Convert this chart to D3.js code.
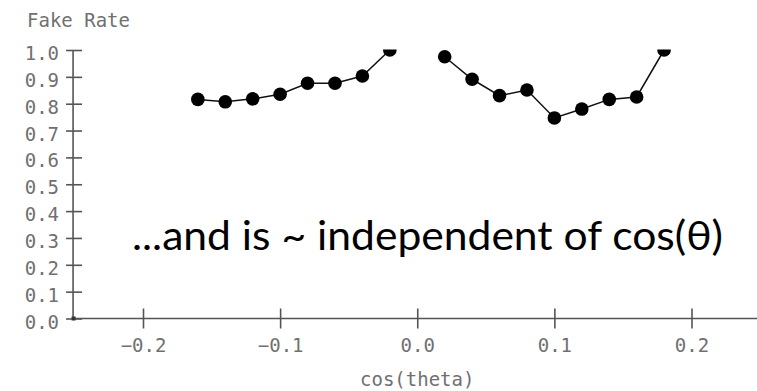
<!DOCTYPE html>
<html>
<head>
<meta charset="utf-8">
<script src="https://cdn.jsdelivr.net/npm/d3@7"></script>
<style>
  html, body { margin: 0; padding: 0; background: #fff; }
  svg { display: block; }
  .axis text { font-family: "DejaVu Sans Mono", monospace; font-size: 19px; fill: #707070; }
  .axis path { display: none; }
  .axis line { stroke: #555; stroke-width: 1.6; }
</style>
</head>
<body>
<div id="chart"></div>
<script>
// fake rate vs cos(theta), two branches (no bin at 0.0)
const cosLeft = [-0.16, -0.14, -0.12, -0.10, -0.08, -0.06, -0.04, -0.02];
const rateLeft = [0.816, 0.807, 0.818, 0.835, 0.876, 0.876, 0.903, 1.0];
const cosRight = [0.02, 0.04, 0.06, 0.08, 0.10, 0.12, 0.14, 0.16, 0.18];
const rateRight = [0.975, 0.891, 0.830, 0.851, 0.747, 0.780, 0.816, 0.825, 1.0];

const xTicks = [-0.2, -0.1, 0.0, 0.1, 0.2];
const yTicks = [0.0, 0.1, 0.2, 0.3, 0.4, 0.5, 0.6, 0.7, 0.8, 0.9, 1.0];

const yTitle = "Fake Rate";
const xTitle = "cos(theta)";
const note = "...and is ~ independent of cos(\u03b8)";

const width = 757, height = 391;

const x = d3.scaleLinear().domain([-0.2, 0.2]).range([143, 691.5]);
const y = d3.scaleLinear().domain([0, 1]).range([318.5, 50]);

const svg = d3.select("#chart").append("svg")
    .attr("width", width)
    .attr("height", height);

svg.append("defs").append("clipPath")
    .attr("id", "plotClip")
  .append("rect")
    .attr("x", x(-0.251))
    .attr("y", y(1.0) - 0.5)
    .attr("width", width)
    .attr("height", y(0) - y(1.0) + 1);

// axes
const yAxis = svg.append("g")
    .attr("class", "axis")
    .attr("transform", `translate(${x(-0.251)},0)`)
    .call(d3.axisLeft(y).tickValues(yTicks).tickFormat(d3.format(".1f")).tickSize(0).tickPadding(14));
yAxis.selectAll(".tick line").attr("x1", -7).attr("x2", 9);
yAxis.selectAll(".tick text").attr("dy", "0.5em");
yAxis.append("line")
    .attr("x1", 0).attr("x2", 0)
    .attr("y1", y(1.0)).attr("y2", y(0));

const xAxis = svg.append("g")
    .attr("class", "axis")
    .attr("transform", `translate(0,${y(0)})`)
    .call(d3.axisBottom(x).tickValues(xTicks).tickFormat(d3.format(".1f")).tickSize(0).tickPadding(18));
xAxis.selectAll(".tick line").attr("y1", -10).attr("y2", 10);
xAxis.selectAll(".tick text").attr("dy", "0.8em");
xAxis.append("line")
    .attr("x1", x(-0.251)).attr("x2", width)
    .attr("y1", 0).attr("y2", 0);

// little square at the origin
svg.append("rect")
    .attr("x", x(-0.251) - 1.5)
    .attr("y", y(0) - 2)
    .attr("width", 4)
    .attr("height", 4)
    .attr("fill", "#333");

svg.append("text")
    .attr("x", 27)
    .attr("y", 26.5)
    .attr("font-family", "DejaVu Sans Mono, monospace")
    .attr("font-size", 19)
    .attr("fill", "#707070")
    .text(yTitle);

svg.append("text")
    .attr("x", x(0))
    .attr("y", 386)
    .attr("text-anchor", "middle")
    .attr("font-family", "DejaVu Sans Mono, monospace")
    .attr("font-size", 19)
    .attr("fill", "#707070")
    .text(xTitle);

// data
const plot = svg.append("g").attr("clip-path", "url(#plotClip)");
const line = d3.line().x(d => x(d[0])).y(d => y(d[1]));

[[cosLeft, rateLeft], [cosRight, rateRight]].forEach(([xs, ys]) => {
    const pts = xs.map((v, i) => [v, ys[i]]);
    plot.append("path")
        .datum(pts)
        .attr("d", line)
        .attr("fill", "none")
        .attr("stroke", "#111")
        .attr("stroke-width", 1.5);
    plot.selectAll(null)
        .data(pts)
        .enter().append("circle")
        .attr("cx", d => x(d[0]))
        .attr("cy", d => y(d[1]))
        .attr("r", 6.8)
        .attr("fill", "#000");
});

// big annotation
svg.append("text")
    .attr("x", 132)
    .attr("y", 250)
    .attr("font-family", "Lato, 'Open Sans', sans-serif")
    .attr("font-size", 40)
    .attr("fill", "#000")
    .attr("textLength", 591)
    .attr("lengthAdjust", "spacingAndGlyphs")
    .text(note);
</script>
</body>
</html>
